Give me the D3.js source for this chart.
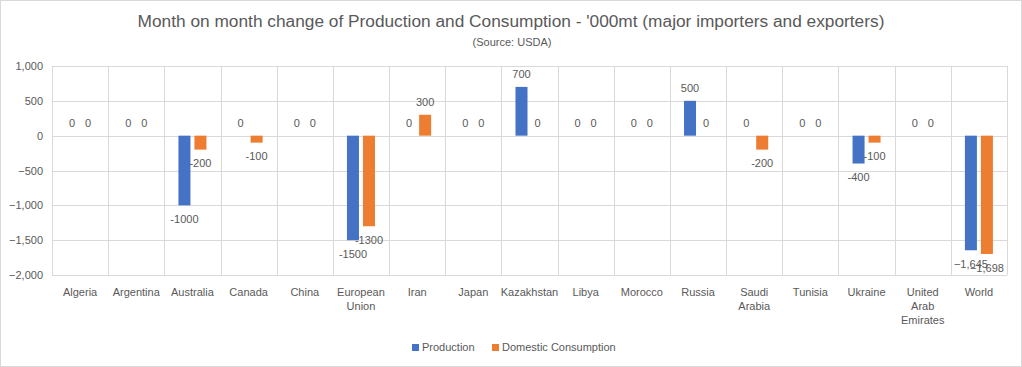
<!DOCTYPE html>
<html><head><meta charset="utf-8">
<script src="https://cdn.jsdelivr.net/npm/d3@7/dist/d3.min.js"></script>
<style>body{margin:0;background:#fff}svg{display:block}</style>
</head><body>
<svg id="c" width="1022" height="367"></svg>
<script>
const categories = ["Algeria","Argentina","Australia","Canada","China","European Union","Iran","Japan","Kazakhstan","Libya","Morocco","Russia","Saudi Arabia","Tunisia","Ukraine","United Arab Emirates","World"];
const categoryLines = [["Algeria"],["Argentina"],["Australia"],["Canada"],["China"],["European","Union"],["Iran"],["Japan"],["Kazakhstan"],["Libya"],["Morocco"],["Russia"],["Saudi","Arabia"],["Tunisia"],["Ukraine"],["United","Arab","Emirates"],["World"]];
const production = [0,0,-1000,0,0,-1500,0,0,700,0,0,500,0,0,-400,0,-1645];
const consumption = [0,0,-200,-100,0,-1300,300,0,0,0,0,0,-200,0,-100,0,-1698];
const seriesNames = ["Production","Domestic Consumption"];
const yTicks = [-2000,-1500,-1000,-500,0,500,1000];
const commaCategories = ["World"];
const colors = ["#4472C4","#ED7D31"];

(function(){
const svg = d3.select("#c");
const W = 1022, H = 367;
const fontFam = "'Liberation Sans', Arial, sans-serif";
const textCol = "#595959";
svg.append("rect").attr("x",0.5).attr("y",0.5).attr("width",W-1).attr("height",H-1).attr("fill","#fff").attr("stroke","#d9d9d9");

const pL = 52, pR = 1007, pT = 66, pB = 275;
const x = d3.scaleBand().domain(categories).range([pL,pR]).padding(0);
const y = d3.scaleLinear().domain([-2000,1000]).range([pB,pT]);
const xs = d3.scaleBand().domain(seriesNames).range([0, x.bandwidth()]).paddingInner(0.25).paddingOuter(0.88);

const g = svg.append("g");
g.selectAll("line.h").data(yTicks).join("line")
  .attr("x1",pL).attr("x2",pR).attr("y1",d=>Math.round(y(d))+0.5).attr("y2",d=>Math.round(y(d))+0.5)
  .attr("stroke","#d9d9d9").attr("stroke-width",1);
const vb = categories.map(c=>x(c)).concat([pR]);
g.selectAll("line.v").data(vb).join("line")
  .attr("x1",d=>Math.round(d)+0.5).attr("x2",d=>Math.round(d)+0.5).attr("y1",pT).attr("y2",pB)
  .attr("stroke","#d9d9d9").attr("stroke-width",1);

const yAxis = d3.axisLeft(y).tickValues(yTicks).tickFormat(d3.format(",")).tickSize(0).tickPadding(0);
const ya = svg.append("g").attr("transform",`translate(${pL-9},0)`).call(yAxis);
ya.select(".domain").remove();
ya.selectAll("text").attr("fill",textCol).style("font-family",fontFam).style("font-size","11px");

const series = [production, consumption];
series.forEach((vals, si) => {
  const sg = svg.append("g");
  const data = vals.map((v,i)=>({v,c:categories[i]}));
  sg.selectAll("rect").data(data).join("rect")
    .attr("x",d=>x(d.c)+xs(seriesNames[si]))
    .attr("width",xs.bandwidth())
    .attr("y",d=>y(Math.max(0,d.v)))
    .attr("height",d=>Math.abs(y(d.v)-y(0)))
    .attr("fill",colors[si]);
  sg.selectAll("text").data(data).join("text")
    .attr("x",d=>x(d.c)+xs(seriesNames[si])+xs.bandwidth()/2)
    .attr("y",d=> d.v<0 ? y(d.v)+14 : y(d.v)-13)
    .attr("dy","0.35em")
    .attr("text-anchor","middle")
    .attr("fill",textCol).style("font-family",fontFam).style("font-size","11px")
    .text(d=> commaCategories.includes(d.c) ? d3.format(",")(d.v) : String(d.v));
});

const xl = svg.append("g");
categories.forEach((c,i)=>{
  const cx = x(c)+x.bandwidth()/2;
  const t = xl.append("text").attr("x",cx).attr("y",292)
    .attr("text-anchor","middle").attr("fill",textCol).style("font-family",fontFam).style("font-size","11px");
  categoryLines[i].forEach((ln,k)=>{
    t.append("tspan").attr("x",cx).attr("dy",k===0?"0.35em":"14px").text(ln);
  });
});

svg.append("text").attr("x",W/2).attr("y",21).attr("dy","0.35em").attr("text-anchor","middle")
  .attr("fill",textCol).style("font-family",fontFam).style("font-size","17.3px")
  .text("Month on month change of Production and Consumption - '000mt (major importers and exporters)");
svg.append("text").attr("x",W/2+1).attr("y",42).attr("dy","0.35em").attr("text-anchor","middle")
  .attr("fill",textCol).style("font-family",fontFam).style("font-size","11px")
  .text("(Source: USDA)");

const legX = [412, 492];
seriesNames.forEach((n,i)=>{
  svg.append("rect").attr("x",legX[i]).attr("y",344).attr("width",7).attr("height",7).attr("fill",colors[i]);
  svg.append("text").attr("x",legX[i]+10).attr("y",347.5).attr("dy","0.35em")
    .attr("fill",textCol).style("font-family",fontFam).style("font-size","11px").text(n);
});
})();
</script>
</body></html>
